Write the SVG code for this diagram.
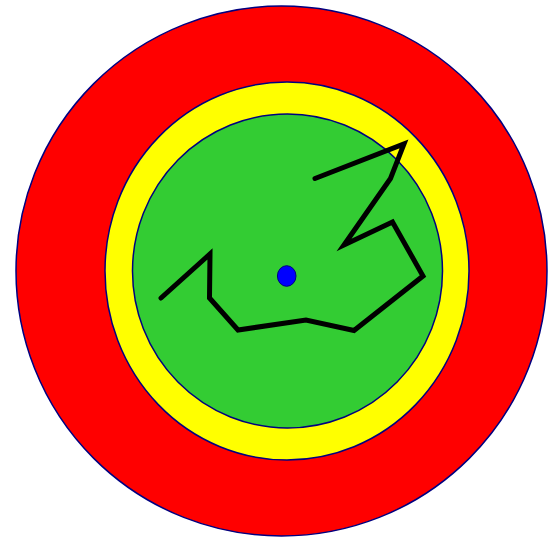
<svg xmlns="http://www.w3.org/2000/svg" width="554" height="537" viewBox="0 0 554 537">
<style>
.ring{stroke:#000080;stroke-width:1.5}
.path{fill:none;stroke:#000;stroke-width:5;stroke-linecap:round;stroke-linejoin:miter}
</style>
<rect width="554" height="537" fill="#fff"/>
<g id="red"><ellipse class="ring" cx="281.5" cy="271" rx="265.5" ry="265" fill="#ff0000"/></g>
<g id="yellow"><ellipse class="ring" cx="287" cy="271" rx="182" ry="189" fill="#ffff00"/></g>
<g id="green"><ellipse class="ring" cx="287.5" cy="271" rx="155" ry="157" fill="#33cc33"/></g>
<g id="connectors"><polyline class="path" points="161,298 210,254 209.5,298 238,330 306,320 354,330.5 423,276 392.5,222 344,245 390.5,178.5 404,144 315,178.5"/></g>
<g id="dot"><ellipse cx="286.7" cy="276" rx="9.3" ry="10.3" fill="#0000ff" stroke="#000080" stroke-width="1"/></g>
</svg>
